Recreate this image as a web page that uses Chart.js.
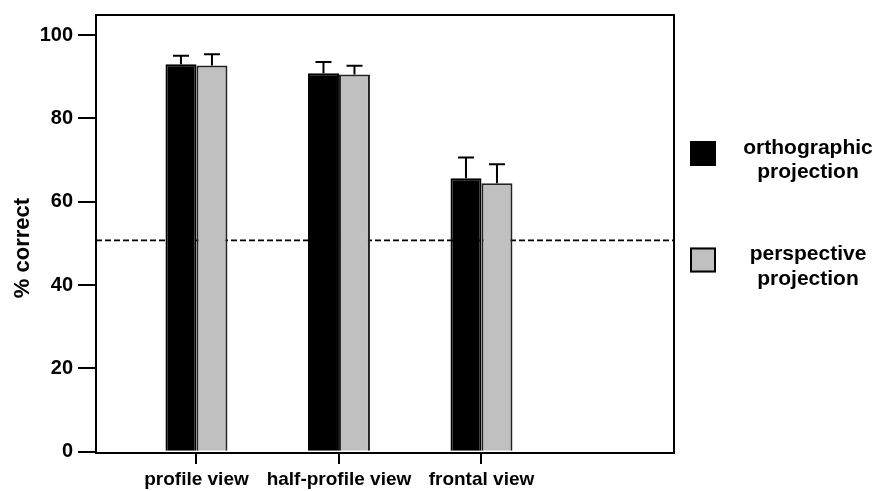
<!DOCTYPE html>
<html>
<head>
<meta charset="utf-8">
<script src="https://cdn.jsdelivr.net/npm/chart.js@4/dist/chart.umd.min.js"></script>
<style>
html,body{margin:0;padding:0;background:#fff;}
#wrap{width:885px;height:491px;}
</style>
</head>
<body>
<div id="wrap"><canvas id="c" width="885" height="491"></canvas></div>
<script>
const categories = ["profile view", "half-profile view", "frontal view"];
const categoryPos = [0, 1, 2];
const orthographic = [93.0, 90.8, 65.6];
const orthographicErrTop = [95.0, 93.5, 70.6];
const perspective = [92.7, 90.5, 64.4];
const perspectiveErrTop = [95.4, 92.6, 69.0];
const seriesNames = ["orthographic projection", "perspective projection"];
const yTicks = [0, 20, 40, 60, 80, 100];
const chanceLevel = 50.7;
const yAxisTitle = "% correct";

const FONT = "'Liberation Sans', Arial, Helvetica, sans-serif";

const decor = {
  id: 'decor',
  beforeDatasetsDraw(chart) {
    const {ctx, chartArea: a, scales: {y}} = chart;
    const py = y.getPixelForValue(chanceLevel);
    ctx.save();
    ctx.strokeStyle = '#000';
    ctx.lineWidth = 1.8;
    ctx.setLineDash([6, 3]);
    ctx.beginPath();
    ctx.moveTo(a.left, py);
    ctx.lineTo(a.right, py);
    ctx.stroke();
    ctx.restore();
  },
  afterDatasetsDraw(chart) {
    const {ctx, chartArea: a, scales: {y}} = chart;
    const errs = [orthographicErrTop, perspectiveErrTop];
    ctx.save();
    ctx.strokeStyle = '#000';
    ctx.lineWidth = 2;
    chart.data.datasets.forEach((ds, di) => {
      const meta = chart.getDatasetMeta(di);
      meta.data.forEach((bar, i) => {
        const top = y.getPixelForValue(errs[di][i]);
        ctx.beginPath();
        ctx.moveTo(bar.x, bar.y);
        ctx.lineTo(bar.x, top);
        ctx.moveTo(bar.x - 8, top);
        ctx.lineTo(bar.x + 8, top);
        ctx.stroke();
      });
    });
    // plot box
    ctx.lineWidth = 2;
    ctx.strokeRect(a.left, a.top, a.right - a.left, a.bottom - a.top);
    ctx.restore();
  },
  afterDraw(chart) {
    const {ctx} = chart;
    ctx.save();
    // y axis title
    ctx.fillStyle = '#000';
    ctx.font = "bold 22px " + FONT;
    ctx.textAlign = 'center';
    ctx.textBaseline = 'middle';
    ctx.translate(23, 248);
    ctx.rotate(-Math.PI / 2);
    ctx.fillText(yAxisTitle, 0, 0);
    ctx.restore();
    // legend
    ctx.save();
    const tops = [141, 247.5];
    chart.data.datasets.forEach((ds, i) => {
      const t = tops[i];
      ctx.fillStyle = ds.backgroundColor;
      ctx.fillRect(690, t, 26, 25);
      ctx.strokeStyle = '#000';
      ctx.lineWidth = 2;
      ctx.strokeRect(691, t + 1, 24, 23);
      ctx.fillStyle = '#000';
      ctx.font = "bold 21px " + FONT;
      ctx.textAlign = 'center';
      ctx.textBaseline = 'alphabetic';
      const words = ds.label.split(' ');
      ctx.fillText(words[0], 808, t + 12.5);
      ctx.fillText(words[1], 808, t + 37);
    });
    ctx.restore();
  }
};

new Chart(document.getElementById('c'), {
  type: 'bar',
  data: {
    datasets: [
      {
        label: seriesNames[0],
        data: categoryPos.map((x, i) => ({x: x, y: orthographic[i]})),
        backgroundColor: '#000',
        borderColor: '#000',
        borderWidth: 2
      },
      {
        label: seriesNames[1],
        data: categoryPos.map((x, i) => ({x: x, y: perspective[i]})),
        backgroundColor: '#c0c0c0',
        borderColor: '#222',
        borderWidth: 2
      }
    ]
  },
  options: {
    responsive: false,
    animation: false,
    devicePixelRatio: 1,
    categoryPercentage: 0.435,
    barPercentage: 1,
    layout: {padding: {left: 0, right: 211, top: 15, bottom: 0}},
    plugins: {legend: {display: false}, tooltip: {enabled: false}},
    scales: {
      x: {
        type: 'linear',
        min: -0.705,
        max: 3.351,
        offset: false,
        afterBuildTicks(scale) { scale.ticks = categoryPos.map(v => ({value: v})); },
        afterFit(scale) { scale.height = 38; scale.paddingLeft = 0; scale.paddingRight = 0; },
        ticks: {
          autoSkip: false,
          maxRotation: 0,
          color: '#000',
          padding: 4,
          font: {family: FONT, size: 19, weight: 'bold'},
          callback(v) { const i = categoryPos.indexOf(v); return i >= 0 ? categories[i] : ''; }
        },
        grid: {offset: false, drawOnChartArea: false, drawTicks: true, tickLength: 11, color: '#000', lineWidth: 2},
        border: {display: false}
      },
      y: {
        min: -0.3,
        max: 104.8,
        afterBuildTicks(scale) { scale.ticks = yTicks.map(v => ({value: v})); },
        afterFit(scale) { scale.width = 96; scale.paddingTop = 0; scale.paddingBottom = 0; },
        ticks: {
          color: '#000',
          padding: 5,
          font: {family: FONT, size: 20, weight: 'bold'}
        },
        grid: {drawOnChartArea: false, drawTicks: true, tickLength: 18, color: '#000', lineWidth: 2},
        border: {display: false}
      }
    }
  },
  plugins: [decor]
});
</script>
</body>
</html>
